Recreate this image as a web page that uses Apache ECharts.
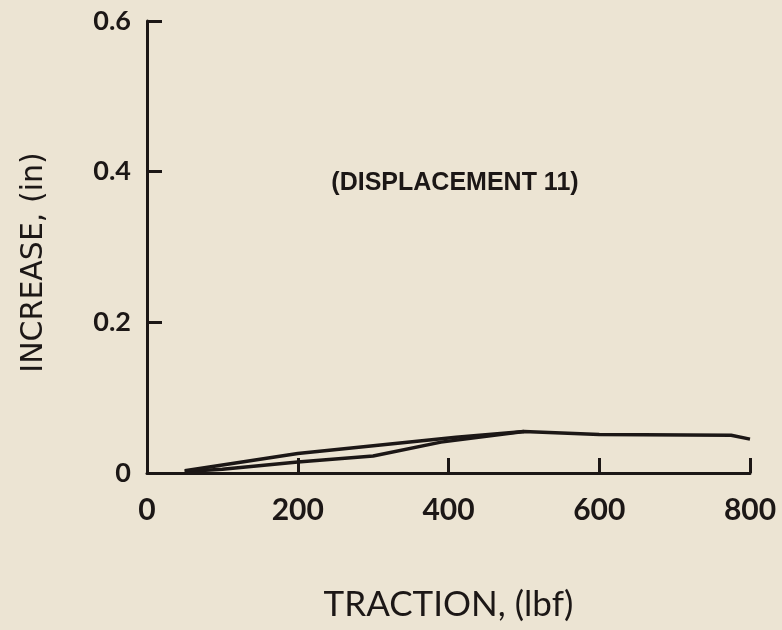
<!DOCTYPE html>
<html>
<head>
<meta charset="utf-8">
<script src="https://cdn.jsdelivr.net/npm/echarts@6/dist/echarts.min.js"></script>
<style>
  html, body { margin: 0; padding: 0; background: #ece4d3; }
  #chart { width: 782px; height: 630px; }
</style>
</head>
<body>
<div id="chart"></div>
<script>
// Traction (lbf) vs. displacement increase (in), displacement 11
var loadingPath = [[50, 0.002], [100, 0.005], [200, 0.0145], [300, 0.0225], [390, 0.041], [500, 0.055], [600, 0.051], [775, 0.050], [800, 0.045]];
var unloadingPath = [[50, 0.003], [200, 0.026], [410, 0.0475], [500, 0.055]];
var xTicks = [0, 200, 400, 600, 800];
var yTicks = [0, 0.2, 0.4, 0.6];
var annotation = '(DISPLACEMENT 11)';

var ink = '#1c1716';
var chart = echarts.init(document.getElementById('chart'));

chart.setOption({
  backgroundColor: '#ece4d3',
  animation: false,
  grid: { left: 147, right: 32, top: 21, bottom: 157 },
  xAxis: {
    type: 'value', min: 0, max: 800, interval: 200,
    name: 'TRACTION, (lbf)', nameLocation: 'middle', nameGap: 114,
    nameTextStyle: { color: ink, fontFamily: 'Lato', fontSize: 35 },
    axisLine: { lineStyle: { color: ink, width: 3 } },
    axisTick: { inside: true, length: 15, lineStyle: { color: ink, width: 3 } },
    axisLabel: { color: ink, fontFamily: 'Lato', fontWeight: 'bold', fontSize: 30, margin: 22,
                 formatter: function (v) { return xTicks.indexOf(v) >= 0 ? String(v) : ''; } },
    splitLine: { show: false }
  },
  yAxis: {
    type: 'value', min: 0, max: 0.6, interval: 0.2,
    name: 'INCREASE, (in)', nameLocation: 'middle', nameGap: 98,
    nameTextStyle: { color: ink, fontFamily: 'DejaVu Sans', fontSize: 30, padding: [0, 0, 0, -31] },
    axisLine: { lineStyle: { color: ink, width: 3 } },
    axisTick: { inside: true, length: 15, lineStyle: { color: ink, width: 3 } },
    axisLabel: { color: ink, fontFamily: 'Lato', fontWeight: 'bold', fontSize: 27, margin: 16,
                 formatter: function (v) {
                   var t = yTicks.filter(function (y) { return Math.abs(y - v) < 1e-9; })[0];
                   return t === undefined ? '' : (t === 0 ? '0' : t.toFixed(1));
                 } },
    splitLine: { show: false }
  },
  graphic: [{
    type: 'text', x: 455, y: 183,
    style: { text: annotation, fill: ink, align: 'center', verticalAlign: 'middle',
             font: 'bold 25px "Liberation Sans", sans-serif' }
  }],
  series: [
    { type: 'line', data: loadingPath, symbol: 'none', lineStyle: { color: ink, width: 3.5 } },
    { type: 'line', data: unloadingPath, symbol: 'none', lineStyle: { color: ink, width: 3.5 } }
  ]
});
</script>
</body>
</html>
